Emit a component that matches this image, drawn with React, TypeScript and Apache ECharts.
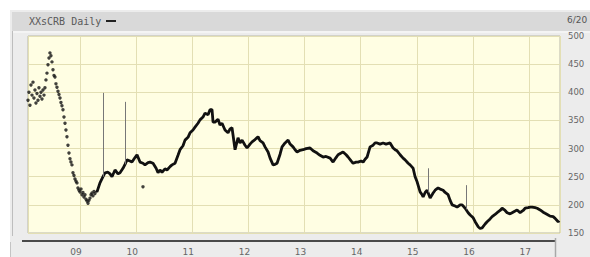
import React, { useEffect, useRef } from 'react';
import * as echarts from 'echarts';

const titleText = 'XXsCRB Daily';
const dateText = '6/20';

// Early (2008 – early 2009) section, drawn as dots
const dotYears = [
  2008.074, 2008.091, 2008.109, 2008.127, 2008.145, 2008.163, 2008.18, 2008.198, 2008.216, 2008.234,
  2008.252, 2008.269, 2008.287, 2008.305, 2008.323, 2008.341, 2008.359, 2008.376, 2008.394, 2008.412,
  2008.43, 2008.448, 2008.465, 2008.483, 2008.501, 2008.519, 2008.537, 2008.554, 2008.572, 2008.59,
  2008.608, 2008.626, 2008.644, 2008.661, 2008.679, 2008.697, 2008.715, 2008.733, 2008.75, 2008.768,
  2008.786, 2008.804, 2008.822, 2008.839, 2008.857, 2008.875, 2008.893, 2008.911, 2008.929, 2008.946,
  2008.964, 2008.982, 2009.0, 2009.018, 2009.036, 2009.053, 2009.071, 2009.089, 2009.107, 2009.125,
  2009.143, 2009.16, 2009.178, 2009.196, 2009.214, 2009.232, 2009.25, 2009.267, 2010.122,
];
const dotValues = [
  386, 400, 377, 413, 395, 418, 390, 404, 381, 398,
  386, 408, 393, 400, 388, 404, 395, 408, 422, 434,
  449, 461, 470, 465, 454, 440, 430, 427, 415, 409,
  402, 396, 390, 382, 376, 369, 356, 345, 333, 321,
  306, 292, 282, 276, 271, 257, 252, 246, 242, 239,
  230, 226, 223, 228, 218, 222, 214, 218, 210, 207,
  203, 208, 212, 218, 221, 216, 224, 220, 232,
];

// Continuous daily line from spring 2009 on
const lineYears = [
  2009.285, 2009.303, 2009.356, 2009.41, 2009.446, 2009.499, 2009.535, 2009.57, 2009.624, 2009.677,
  2009.713, 2009.766, 2009.802, 2009.837, 2009.891, 2009.926, 2009.98, 2010.016, 2010.069, 2010.122,
  2010.158, 2010.212, 2010.247, 2010.301, 2010.356, 2010.39, 2010.425, 2010.461, 2010.514, 2010.55,
  2010.604, 2010.639, 2010.693, 2010.746, 2010.782, 2010.835, 2010.871, 2010.924, 2010.96, 2011.013,
  2011.049, 2011.102, 2011.138, 2011.191, 2011.227, 2011.281, 2011.316, 2011.352, 2011.37, 2011.405,
  2011.459, 2011.494, 2011.53, 2011.583, 2011.637, 2011.673, 2011.708, 2011.726, 2011.762, 2011.815,
  2011.851, 2011.887, 2011.94, 2011.976, 2012.029, 2012.065, 2012.118, 2012.171, 2012.207, 2012.261,
  2012.296, 2012.35, 2012.386, 2012.439, 2012.475, 2012.51, 2012.564, 2012.599, 2012.653, 2012.707,
  2012.742, 2012.795, 2012.831, 2012.867, 2012.92, 2012.974, 2013.027, 2013.098, 2013.152, 2013.223,
  2013.276, 2013.33, 2013.383, 2013.455, 2013.508, 2013.561, 2013.597, 2013.651, 2013.686, 2013.74,
  2013.775, 2013.829, 2013.864, 2013.918, 2013.953, 2014.007, 2014.043, 2014.078, 2014.114, 2014.167,
  2014.221, 2014.256, 2014.292, 2014.345, 2014.399, 2014.452, 2014.523, 2014.577, 2014.613, 2014.648,
  2014.702, 2014.755, 2014.791, 2014.845, 2014.88, 2014.916, 2014.934, 2014.969, 2015.005, 2015.058,
  2015.094, 2015.112, 2015.148, 2015.183, 2015.237, 2015.29, 2015.326, 2015.379, 2015.415, 2015.468,
  2015.504, 2015.557, 2015.593, 2015.629, 2015.682, 2015.718, 2015.771, 2015.807, 2015.861, 2015.914,
  2015.95, 2016.004, 2016.039, 2016.093, 2016.127, 2016.163, 2016.216, 2016.252, 2016.305, 2016.341,
  2016.394, 2016.43, 2016.483, 2016.519, 2016.572, 2016.608, 2016.661, 2016.697, 2016.751, 2016.786,
  2016.84, 2016.894, 2016.929, 2016.982, 2017.018, 2017.054, 2017.107, 2017.143, 2017.196, 2017.25,
  2017.285, 2017.339, 2017.374, 2017.428, 2017.463, 2017.517, 2017.535,
];
const lineValues = [
  225, 223, 239, 250, 257, 258, 255, 250, 262, 255,
  257, 265, 272, 280, 278, 276, 284, 289, 276, 274,
  271, 275, 276, 274, 265, 257, 262, 258, 264, 262,
  268, 271, 274, 288, 298, 305, 315, 320, 328, 333,
  338, 345, 351, 356, 363, 360, 369, 369, 347, 347,
  352, 342, 345, 333, 328, 335, 337, 324, 298, 319,
  310, 315, 306, 301, 308, 312, 316, 321, 314, 310,
  303, 294, 283, 271, 272, 274, 290, 303, 310, 315,
  308, 303, 298, 294, 297, 298, 300, 301, 296, 292,
  288, 285, 286, 283, 276, 284, 289, 292, 294, 289,
  285, 278, 274, 276, 276, 278, 276, 281, 285, 303,
  306, 310, 310, 308, 310, 308, 310, 301, 298, 296,
  289, 283, 280, 274, 271, 267, 265, 250, 241, 223,
  218, 214, 222, 226, 212, 221, 226, 230, 228, 226,
  222, 218, 208, 200, 198, 196, 200, 200, 194, 186,
  182, 177, 170, 161, 158, 159, 166, 170, 175, 179,
  183, 186, 190, 194, 190, 186, 184, 186, 189, 191,
  186, 190, 194, 195, 196, 196, 195, 194, 191, 187,
  185, 182, 180, 179, 176, 170, 172,
];

// Bad-tick spikes (thin vertical lines)
const spikeYears = [2009.41, 2009.802, 2015.21, 2015.878];
const spikeLows = [250, 272, 222, 192];
const spikeHighs = [399, 383, 265, 235];

const xMin = 2008.074;
const xMax = 2017.55;
const yMin = 150;
const yMax = 500;
const yStep = 50;

export default function App() {
  const ref = useRef<HTMLDivElement>(null);

  useEffect(() => {
    document.body.style.margin = '0';
    if (!ref.current) return;
    const chart = echarts.init(ref.current, undefined, { renderer: 'svg' });

    const dots = dotYears.map((x, i) => [x, dotValues[i]]);
    const line = lineYears.map((x, i) => [x, lineValues[i]]);
    const spikes = spikeYears.map((x, i) => [
      { coord: [x, spikeLows[i]] },
      { coord: [x, spikeHighs[i]] },
    ]);

    chart.setOption({
      animation: false,
      grid: {
        left: 28,
        top: 36,
        width: 532,
        height: 197,
        show: true,
        backgroundColor: '#fffee3',
        borderColor: '#b9b9a8',
        borderWidth: 1,
        containLabel: false,
      },
      graphic: [
        { type: 'rect', z: -100, silent: true, shape: { x: 10, y: 10, width: 580, height: 247 }, style: { fill: '#ececec' } },
        { type: 'rect', z: -99, silent: true, shape: { x: 12, y: 12, width: 578, height: 19 }, style: { fill: '#d9d9d9' } },
        { type: 'rect', z: -99, silent: true, shape: { x: 12, y: 31, width: 578, height: 2 }, style: { fill: '#f4f4f4' } },
        { type: 'line', z: -98, silent: true, shape: { x1: 12.5, y1: 31, x2: 12.5, y2: 236 }, style: { stroke: '#bdbdbd', lineWidth: 1 } },
        { type: 'line', z: -98, silent: true, shape: { x1: 10.5, y1: 242, x2: 10.5, y2: 257 }, style: { stroke: '#c4c4c4', lineWidth: 1 } },
        { type: 'line', silent: true, shape: { x1: 22, y1: 241, x2: 555, y2: 241 }, style: { stroke: '#4a4a4a', lineWidth: 2 } },
        { type: 'line', silent: true, shape: { x1: 555.5, y1: 238, x2: 555.5, y2: 257 }, style: { stroke: '#a8a8a8', lineWidth: 1.5 } },
        {
          type: 'text', silent: true, x: 29, y: 21,
          style: { text: titleText, fill: '#5a5a5a', font: '10px "DejaVu Sans Mono"', verticalAlign: 'middle' },
        },
        { type: 'line', silent: true, shape: { x1: 106, y1: 21, x2: 116, y2: 21 }, style: { stroke: '#222', lineWidth: 2 } },
        {
          type: 'text', silent: true, x: 567, y: 20,
          style: { text: dateText, fill: '#555', font: '9px "DejaVu Sans"', verticalAlign: 'middle' },
        },
      ],
      xAxis: {
        type: 'value',
        min: xMin,
        max: xMax,
        splitNumber: 10,
        offset: 8,
        axisLine: { show: false },
        axisTick: { show: false },
        splitLine: { show: true, lineStyle: { color: '#e3dfb4', width: 1 } },
        axisLabel: {
          showMinLabel: false,
          showMaxLabel: false,
          margin: 6,
          color: '#666',
          fontSize: 9,
          fontFamily: 'DejaVu Sans',
          padding: [0, 8, 0, 0],
          formatter: (v: number) => String(Math.round(v) % 100).padStart(2, '0'),
        },
      },
      yAxis: {
        type: 'value',
        position: 'right',
        min: yMin,
        max: yMax,
        interval: yStep,
        axisLine: { show: false },
        axisTick: { show: false },
        splitLine: { show: true, lineStyle: { color: '#e3dfb4', width: 1 } },
        axisLabel: {
          margin: 8,
          color: '#666',
          fontSize: 8.5,
          fontFamily: 'DejaVu Sans',
        },
      },
      series: [
        {
          type: 'scatter',
          data: dots,
          symbol: 'circle',
          symbolSize: 3.4,
          itemStyle: { color: '#111' },
          silent: true,
        },
        {
          type: 'line',
          data: line,
          showSymbol: false,
          lineStyle: { color: '#111', width: 2.8 },
          silent: true,
          markLine: {
            silent: true,
            symbol: ['none', 'none'],
            label: { show: false },
            lineStyle: { color: '#777', width: 1, type: 'solid' },
            data: spikes,
          },
        },
      ],
    });

    return () => chart.dispose();
  }, []);

  return <div ref={ref} style={{ width: 590, height: 257 }} />;
}
